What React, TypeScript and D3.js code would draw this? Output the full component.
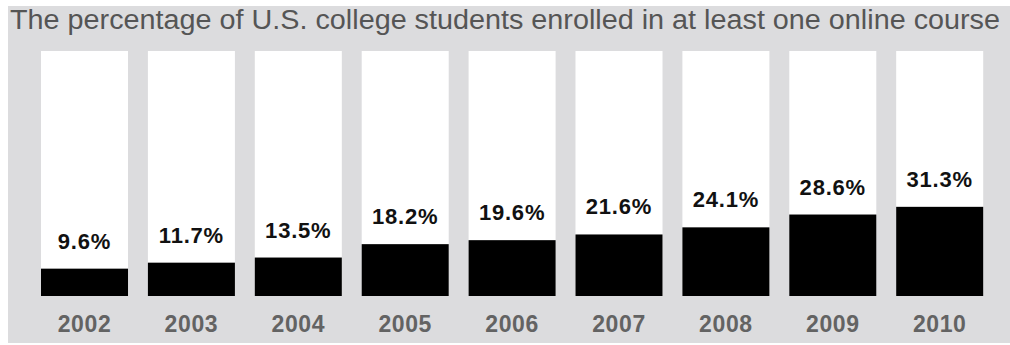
import React from "react";
import * as d3 from "d3";

const years = ["2002", "2003", "2004", "2005", "2006", "2007", "2008", "2009", "2010"];
const values = [9.6, 11.7, 13.5, 18.2, 19.6, 21.6, 24.1, 28.6, 31.3];
const valueLabels = ["9.6%", "11.7%", "13.5%", "18.2%", "19.6%", "21.6%", "24.1%", "28.6%", "31.3%"];
const title = "The percentage of U.S. college students enrolled in at least one online course";

export default function App() {
  const W = 1010;
  const H = 345;
  const x = d3.scaleBand<string>().domain(years).range([41, 983.2]).paddingInner(0.186).paddingOuter(0);
  const y = d3.scaleLinear().domain([0, 86]).range([296, 51]);
  const font = "'Liberation Sans', Arial, Helvetica, sans-serif";
  return (
    <svg width={W} height={H} style={{ position: "absolute", left: 0, top: 0, background: "#fff" }}>
      <rect x={8} y={6} width={W - 8} height={337} fill="#dcdcde" />
      <text x={10} y={29} fontFamily={font} fontSize={27} fill="#555" textLength={990} lengthAdjust="spacingAndGlyphs">
        {title}
      </text>
      {years.map((yr, i) => {
        const bx = x(yr)!;
        const bw = x.bandwidth();
        const top = y(values[i]);
        return (
          <g key={yr}>
            <rect x={bx} y={y(86)} width={bw} height={y(0) - y(86)} fill="#fff" />
            <rect x={bx} y={top} width={bw} height={y(0) - top} fill="#000" />
            <text x={bx + bw / 2} y={top - 20} textAnchor="middle" fontFamily={font} fontWeight="bold" fontSize={22} letterSpacing={0.8} fill="#111">
              {valueLabels[i]}
            </text>
            <text x={bx + bw / 2} y={332} textAnchor="middle" fontFamily={font} fontWeight="bold" fontSize={23} letterSpacing={0.6} fill="#636363">
              {yr}
            </text>
          </g>
        );
      })}
    </svg>
  );
}
